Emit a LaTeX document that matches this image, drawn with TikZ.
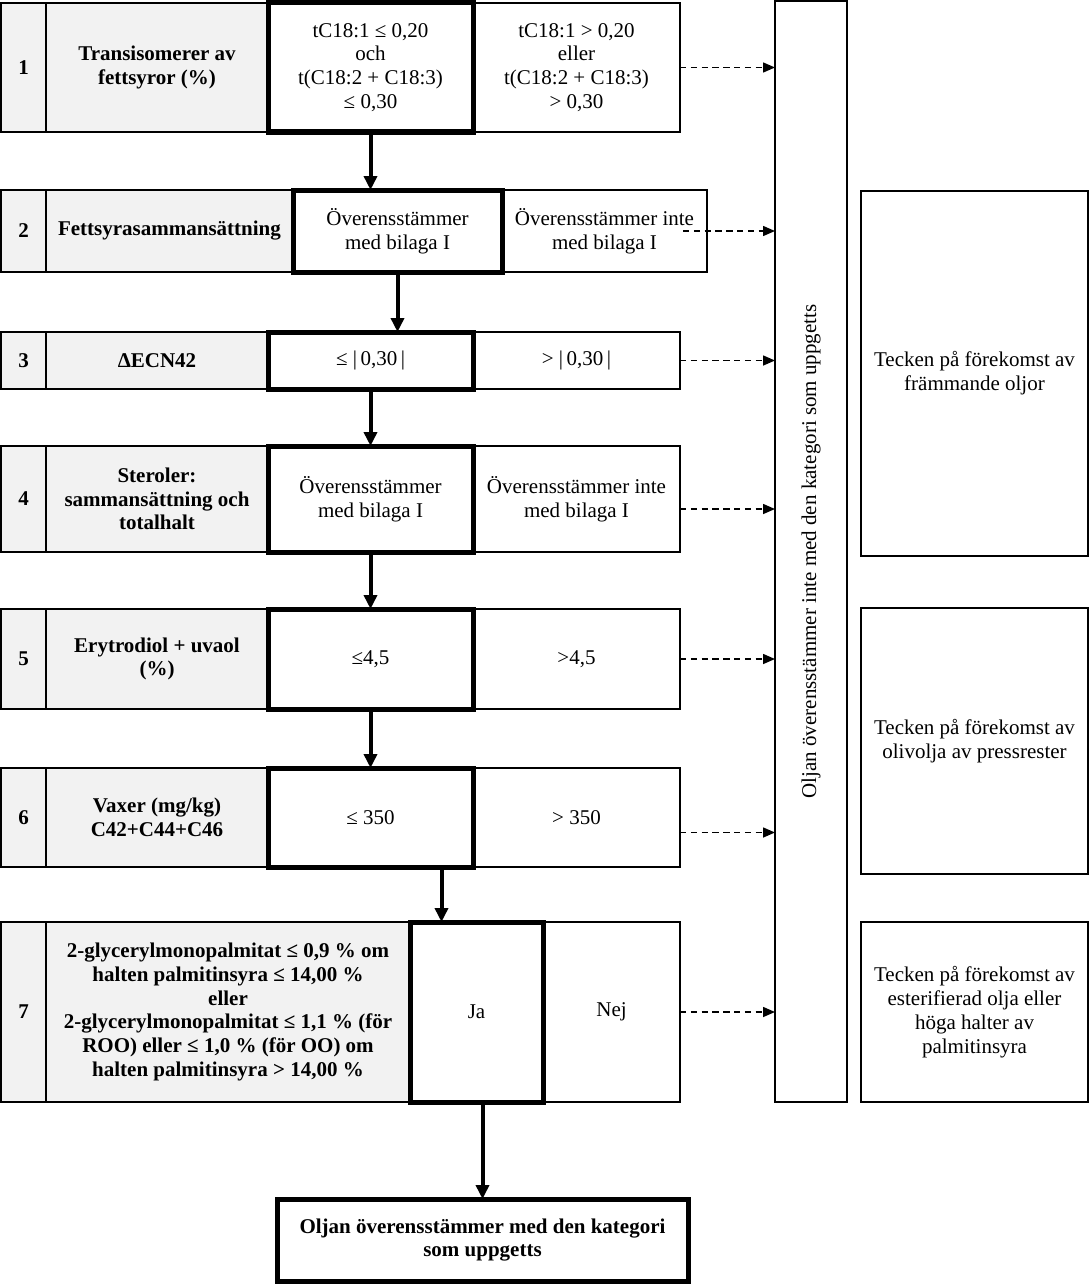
\documentclass[tikz,border=0pt]{standalone}
\usepackage{fontspec}
\setmainfont{Liberation Serif}
\usetikzlibrary{arrows.meta,calc,positioning}
\definecolor{cellgray}{RGB}{242,242,242}

\begin{document}
\fontsize{10.5pt}{11.9pt}\selectfont
\begin{tikzpicture}[x=0.5pt, y=-0.5pt, node distance=0pt,
    cell/.style={draw, line width=0.75pt, inner sep=0pt, outer sep=0pt, align=center},
    numcell/.style={cell, fill=cellgray, font=\bfseries, minimum width=22.5pt, anchor=north west},
    labcell/.style={cell, fill=cellgray, font=\bfseries},
    yescell/.style={cell, line width=2.5pt},
    nocell/.style={cell},
    sidebox/.style={cell, minimum width=113.5pt, anchor=north west},
    flow/.style={-{Triangle[length=7pt,width=6.5pt]}, line width=2pt},
    reject/.style={-{Triangle[length=6pt,width=5pt]}, line width=0.75pt, dash pattern=on 3.2pt off 2.2pt}]
  \useasboundingbox (0,0) rectangle (1090,1284);

  \node[numcell, minimum height=64.5pt] (num1) at (1,3) {1};
  \node[labcell, minimum height=64.5pt, minimum width=111pt, right=of num1] (lab1) {Transisomerer av\\fettsyror (\%)};
  \node[yescell, minimum height=64.5pt, minimum width=102.5pt, right=of lab1] (yes1) {tC18:1 ≤ 0,20\\och\\t(C18:2 + C18:3)\\≤ 0,30};
  \node[nocell, minimum height=64.5pt, minimum width=103.5pt, right=of yes1] (no1) {tC18:1 > 0,20\\eller\\t(C18:2 + C18:3)\\> 0,30};

  \node[numcell, minimum height=41pt] (num2) at (1,190) {2};
  \node[labcell, minimum height=41pt, minimum width=123.5pt, right=of num2] (lab2) {Fettsyrasammansättning};
  \node[yescell, minimum height=41pt, minimum width=104.5pt, right=of lab2] (yes2) {Överensstämmer\\med bilaga I};
  \node[nocell, minimum height=41pt, minimum width=102.5pt, right=of yes2] (no2) {Överensstämmer inte\\med bilaga I};

  \node[numcell, minimum height=28.5pt] (num3) at (1,332) {3};
  \node[labcell, minimum height=28.5pt, minimum width=111pt, right=of num3] (lab3) {ΔECN42};
  \node[yescell, minimum height=28.5pt, minimum width=102.5pt, right=of lab3] (yes3) {≤ |\,0,30\,|};
  \node[nocell, minimum height=28.5pt, minimum width=103.5pt, right=of yes3] (no3) {> |\,0,30\,|};

  \node[numcell, minimum height=53pt] (num4) at (1,446) {4};
  \node[labcell, minimum height=53pt, minimum width=111pt, right=of num4] (lab4) {Steroler:\\sammansättning och\\totalhalt};
  \node[yescell, minimum height=53pt, minimum width=102.5pt, right=of lab4] (yes4) {Överensstämmer\\med bilaga I};
  \node[nocell, minimum height=53pt, minimum width=103.5pt, right=of yes4] (no4) {Överensstämmer inte\\med bilaga I};

  \node[numcell, minimum height=50pt] (num5) at (1,609) {5};
  \node[labcell, minimum height=50pt, minimum width=111pt, right=of num5] (lab5) {Erytrodiol + uvaol\\(\%)};
  \node[yescell, minimum height=50pt, minimum width=102.5pt, right=of lab5] (yes5) {≤4,5};
  \node[nocell, minimum height=50pt, minimum width=103.5pt, right=of yes5] (no5) {>4,5};

  \node[numcell, minimum height=49.5pt] (num6) at (1,768) {6};
  \node[labcell, minimum height=49.5pt, minimum width=111pt, right=of num6] (lab6) {Vaxer (mg/kg)\\C42+C44+C46};
  \node[yescell, minimum height=49.5pt, minimum width=102.5pt, right=of lab6] (yes6) {≤ 350};
  \node[nocell, minimum height=49.5pt, minimum width=103.5pt, right=of yes6] (no6) {> 350};

  \node[numcell, minimum height=90pt] (num7) at (1,922) {7};
  \node[labcell, minimum height=90pt, minimum width=182pt, right=of num7] (lab7) {2-glycerylmonopalmitat ≤ 0,9 \% om\\halten palmitinsyra ≤ 14,00 \%\\eller\\2-glycerylmonopalmitat ≤ 1,1 \% (för\\ROO) eller ≤ 1,0 \% (för OO) om\\halten palmitinsyra > 14,00 \%};
  \node[yescell, minimum height=90pt, minimum width=66.5pt, right=of lab7] (yes7) {Ja};
  \node[nocell, minimum height=90pt, minimum width=68.5pt, right=of yes7] (no7) {Nej};

  \node[yescell, font=\bfseries, minimum width=205.5pt, minimum height=41pt, anchor=north west] (fin) at (277,1199) {Oljan överensstämmer med den kategori\\som uppgetts};

  \node[cell, minimum width=36pt, minimum height=550.5pt, anchor=north west] (col) at (775,1) {};
  \node[rotate=90] (coltext) at (col.center) {Oljan överensstämmer inte med den kategori som uppgetts};

  \node[sidebox, minimum height=182.5pt] (warn1) at (861,191) {Tecken på förekomst av\\främmande oljor};
  \node[sidebox, minimum height=133pt] (warn2) at (861,608) {Tecken på förekomst av\\olivolja av pressrester};
  \node[sidebox, minimum height=90pt] (warn3) at (861,922) {Tecken på förekomst av\\esterifierad olja eller\\höga halter av\\palmitinsyra};

  \coordinate (mid67) at ($(yes6.south east)!0.5!(yes7.north west)$);
  \draw[flow] (yes1.south) -- (yes1.south |- yes2.north);
  \draw[flow] (yes2.south) -- (yes2.south |- yes3.north);
  \draw[flow] (yes3.south) -- (yes4.north);
  \draw[flow] (yes4.south) -- (yes5.north);
  \draw[flow] (yes5.south) -- (yes6.north);
  \draw[flow] (mid67 |- yes6.south) -- (mid67 |- yes7.north);
  \draw[flow] (fin.north |- yes7.south) -- (fin.north);

  \draw[reject] (no1.east) -- (no1.east -| col.west);
  \draw[reject] ([xshift=-12pt]no2.east) -- (no2.east -| col.west);
  \draw[reject] (no3.east) -- (no3.east -| col.west);
  \draw[reject] ([yshift=-5pt]no4.east) -- ([yshift=-5pt]no4.east -| col.west);
  \draw[reject] (no5.east) -- (no5.east -| col.west);
  \draw[reject] ([yshift=-7.5pt]no6.east) -- ([yshift=-7.5pt]no6.east -| col.west);
  \draw[reject] (no7.east) -- (no7.east -| col.west);
\end{tikzpicture}
\end{document}
